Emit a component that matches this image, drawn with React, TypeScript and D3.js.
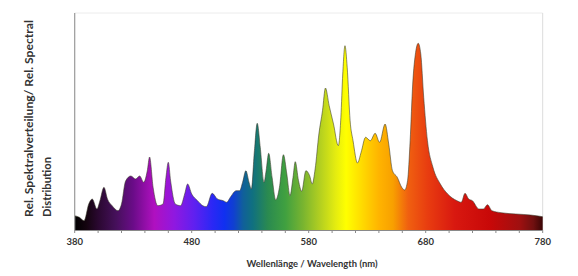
import { useEffect, useRef } from 'react'
import * as d3 from 'd3'

// wavelength (nm) and relative intensity
const wavelengths = [
  380, 384, 388, 392, 395, 399, 401.5, 405, 408, 412, 417, 420, 423.5, 428, 432, 435.5, 439, 442, 444, 447,
  451, 455.5, 458, 460, 462, 466, 470.5, 474, 476.5, 480, 485, 489.5, 492.5, 497.5, 502, 507, 510, 513, 518,
  521, 523.5, 526.3, 529, 531, 533.6, 536, 538.6, 541.8, 543.6, 545.8, 548.7, 551.8, 555, 558.4, 561.3, 564,
  566.6, 568.5, 571.3, 574, 577.6, 580.8, 583, 585.5, 588.7, 591.8, 594.3, 597.5, 601.2, 605.3, 607.5, 609.1,
  611, 612.9, 615.4, 617.9, 621.7, 624.8, 628.6, 632.7, 636.8, 640.6, 645.3, 648.4, 651.6, 655.7, 659.5, 662,
  664.5, 666.7, 668.9, 671.4, 673.6, 675.8, 678.3, 681.5, 686.2, 692.5, 698.8, 706.7, 710.4, 713.6, 716.7,
  719.9, 725.5, 729.3, 732.8, 736.6, 744.4, 757, 769.6, 780,
]
const intensity = [
  14.3, 12.7, 9.3, 26, 31, 21, 29, 42.7, 31, 24.3, 19.3, 26, 49, 54, 51, 54, 47.7, 59, 73, 42.7,
  24.3, 26, 52.7, 67.7, 49, 26, 24.3, 36, 46, 36, 29.3, 24.3, 23.3, 36.7, 31, 29.3, 27.7, 32.7, 39.3,
  39.3, 47.7, 59.3, 47.7, 41, 79.3, 106.7, 82.7, 47.7, 59.3, 76.7, 52.7, 30, 42.7, 75.3, 56, 34.3,
  52.7, 68.3, 49.3, 38.7, 59.3, 54.3, 46, 61, 96, 119.3, 142, 124.3, 106, 84.3, 112.7, 156,
  184.3, 162.7, 109.3, 89.3, 67, 77.7, 92.7, 89.3, 96.7, 87.7, 106, 86, 59.3, 52.7, 42.7, 40,
  49.3, 89.3, 146, 177.7, 186.7, 176, 132.7, 89.3, 62.7, 46, 36, 29.3, 27.7, 36.7, 31,
  29.3, 21, 21, 25.3, 19.3, 17.3, 16, 15, 13.3,
]

const xTicks = [380, 480, 580, 680, 780]

// colour of the fill along the wavelength axis
const stopNm = [380, 390, 400, 415, 430, 448, 465, 482, 498, 508, 516, 524, 532, 545, 560, 575, 590, 603, 612, 625, 640, 652, 665, 682, 705, 735, 760, 772, 780]
const stopColor = [
  '#000000', '#14040f', '#2a0830', '#45105a', '#6a0c88', '#b010c0', '#9018e0', '#6020f0', '#2a28f5', '#1030f0',
  '#1040d0', '#10609a', '#107080', '#2a8a50', '#40a040', '#78b430', '#b4d020', '#e4ec10', '#ffff00', '#ffdc00',
  '#ffb400', '#f8a000', '#f06010', '#e83c10', '#d81810', '#c80808', '#a01010', '#701010', '#3a0505',
]

export default function App() {
  const svgRef = useRef(null)

  useEffect(() => {
    const svg = d3.select(svgRef.current)
    svg.selectAll('*').remove()

    const width = 578
    const height = 276
    const left = 74.7
    const right = 542.7
    const top = 13
    const bottom = 230

    const x = d3.scaleLinear().domain([380, 780]).range([left, right])
    const y = d3.scaleLinear().domain([0, 217]).range([bottom, top])

    svg.attr('width', width).attr('height', height)

    const data = wavelengths.map((w, i) => ({ w, v: intensity[i] }))

    // spectrum gradient
    const defs = svg.append('defs')
    const grad = defs.append('linearGradient')
      .attr('id', 'spec')
      .attr('gradientUnits', 'userSpaceOnUse')
      .attr('x1', x(380)).attr('x2', x(780))
      .attr('y1', 0).attr('y2', 0)
    stopNm.forEach((nm, i) => {
      grad.append('stop')
        .attr('offset', (nm - 380) / 400)
        .attr('stop-color', stopColor[i])
    })

    // frame
    svg.append('line')
      .attr('x1', left).attr('x2', right)
      .attr('y1', top).attr('y2', top)
      .attr('stroke', '#ececec')
    svg.append('line')
      .attr('x1', right).attr('x2', right)
      .attr('y1', top).attr('y2', bottom)
      .attr('stroke', '#dcdcdc')

    const area = d3.area<{ w: number; v: number }>()
      .x(d => x(d.w))
      .y0(bottom)
      .y1(d => y(d.v))
      .curve(d3.curveMonotoneX)

    const line = d3.line<{ w: number; v: number }>()
      .x(d => x(d.w))
      .y(d => y(d.v))
      .curve(d3.curveMonotoneX)

    svg.append('path')
      .attr('d', area(data))
      .attr('fill', 'url(#spec)')

    svg.append('path')
      .attr('d', line(data))
      .attr('fill', 'none')
      .attr('stroke', '#3a3a2a')
      .attr('stroke-width', 0.7)
      .attr('stroke-opacity', 0.8)

    // axes
    svg.append('line')
      .attr('x1', left).attr('x2', left)
      .attr('y1', top).attr('y2', bottom)
      .attr('stroke', '#9a9a9a')
      .attr('stroke-width', 1.2)
    svg.append('line')
      .attr('x1', left).attr('x2', right)
      .attr('y1', bottom + 0.5).attr('y2', bottom + 0.5)
      .attr('stroke', '#8a8a8a')

    d3.range(380, 781, 20).forEach(t => {
      svg.append('line')
        .attr('x1', x(t)).attr('x2', x(t))
        .attr('y1', bottom).attr('y2', bottom + 3)
        .attr('stroke', '#8a8a8a')
    })

    xTicks.forEach(t => {
      svg.append('text')
        .attr('x', x(t))
        .attr('y', 244.5)
        .attr('text-anchor', 'middle')
        .attr('font-family', 'Lato, sans-serif')
        .attr('font-weight', 700)
        .attr('font-size', 9.5)
        .attr('fill', '#333')
        .text(t)
    })

    svg.append('text')
      .attr('x', 312)
      .attr('y', 266.5)
      .attr('text-anchor', 'middle')
      .attr('font-family', 'Lato, sans-serif')
      .attr('font-weight', 700)
      .attr('font-size', 9)
      .attr('fill', '#333')
      .attr('textLength', 131)
      .attr('lengthAdjust', 'spacingAndGlyphs')
      .text('Wellenlänge / Wavelength (nm)')

    const yTitle = svg.append('g')
      .attr('font-family', 'Lato, sans-serif')
      .attr('font-weight', 700)
      .attr('font-size', 11.5)
      .attr('fill', '#333')
    yTitle.append('text')
      .attr('transform', 'translate(33,217) rotate(-90)')
      .attr('textLength', 197)
      .attr('lengthAdjust', 'spacingAndGlyphs')
      .text('Rel. Spektralverteilung/ Rel. Spectral')
    yTitle.append('text')
      .attr('transform', 'translate(51,217) rotate(-90)')
      .attr('textLength', 60)
      .attr('lengthAdjust', 'spacingAndGlyphs')
      .text('Distribution')
  }, [])

  return (
    <svg ref={svgRef} style={{ position: 'absolute', left: 0, top: 0, display: 'block', background: '#fff' }} />
  )
}
